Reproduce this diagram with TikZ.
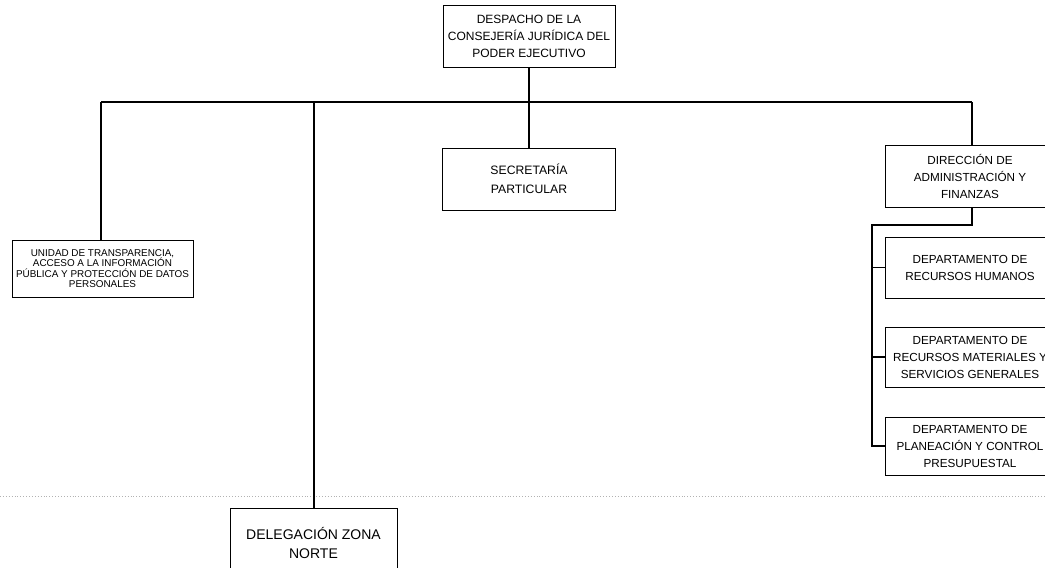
\documentclass[tikz,border=0pt]{standalone}
\usepackage{fontspec}
\setmainfont{Liberation Sans}
\begin{document}
\begin{tikzpicture}[x=1pt,y=-1pt,
  box/.style={draw, line width=1pt, inner sep=0pt, align=center, font=\fontsize{11.7}{17}\selectfont},
  link/.style={line width=1.3pt},
  scanline/.style={gray!60, dotted, line width=0.9pt}]
\useasboundingbox (0,0) rectangle (1045,568);
\clip (0,0) rectangle (1045,568);
% boxes
\node[box, minimum width=172, minimum height=62, font=\fontsize{12}{17}\selectfont] (desp) at (529,36) {DESPACHO DE LA\\CONSEJERÍA JURÍDICA DEL\\PODER EJECUTIVO};
\node[box, minimum width=173, minimum height=62, font=\fontsize{12.2}{19}\selectfont] (secr) at (529,179) {SECRETARÍA\\PARTICULAR};
\node[box, minimum width=170, minimum height=62] (dir) at (970,176) {DIRECCIÓN DE\\ADMINISTRACIÓN Y\\FINANZAS};
\node[box, minimum width=170, minimum height=61] (rh) at (970,267.5) {DEPARTAMENTO DE\\RECURSOS HUMANOS};
\node[box, minimum width=170, minimum height=60] (rm) at (970,357) {DEPARTAMENTO DE\\RECURSOS MATERIALES Y\\SERVICIOS GENERALES};
\node[box, minimum width=170, minimum height=58] (pp) at (970,446) {DEPARTAMENTO DE\\PLANEACIÓN Y CONTROL\\PRESUPUESTAL};
\node[box, minimum width=181, minimum height=57, font=\fontsize{9.9}{10.6}\selectfont] (ut) at (102.5,268.5) {UNIDAD DE TRANSPARENCIA,\\ACCESO A LA INFORMACIÓN\\PÚBLICA Y PROTECCIÓN DE DATOS\\PERSONALES};
\node[box, minimum width=167, minimum height=70, font=\fontsize{14}{18.5}\selectfont] (del) at (313.5,543) {DELEGACIÓN ZONA\\NORTE};
% scan page-break line
\coordinate (scanL) at (0,496);
\coordinate (scanR) at (1045,496);
\draw[scanline] (scanL) -- (scanR);
% bus
\coordinate (bus) at (529,102);
\coordinate (busL) at (101,102);
\coordinate (busD) at (314,102);
\coordinate (busR) at (972,102);
\draw[link] (desp.south) -- (bus);
\draw[link] (busL) -- (busR);
\draw[link] (busL) -- (busL |- ut.north);
\draw[link] (busD) -- (busD |- del.north);
\draw[link] (bus -| secr.north) -- (secr.north);
\draw[link] (busR) -- (busR |- dir.north);
% sub-departments
\coordinate (dirS) at (972,225);
\coordinate (spine) at (872,225);
\draw[link] (dirS |- dir.south) -- (dirS) -- (spine) -- (spine |- pp.west) -- (pp.west);
\draw[link] (spine |- rh.west) -- (rh.west);
\draw[link] (spine |- rm.west) -- (rm.west);
\end{tikzpicture}
\end{document}
